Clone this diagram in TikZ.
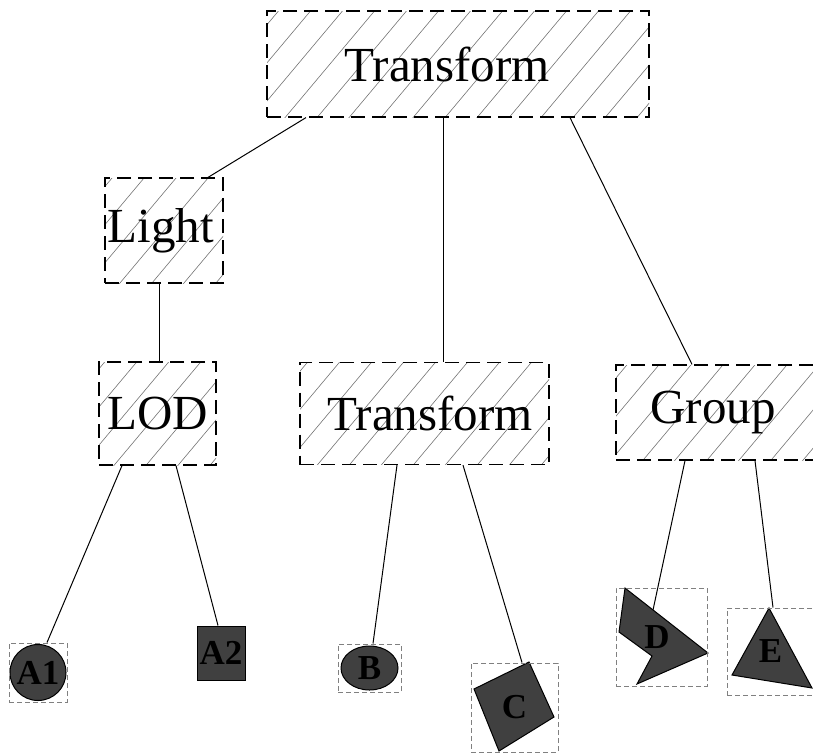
\documentclass[tikz,border=0pt]{standalone}
\usepackage{fontspec}
\setmainfont{Liberation Serif}
\tikzset{
  hatchline/.style={solid,draw=black!55,line width=0.6pt},
  hatch/.style={path picture={
    \foreach \k in {-10,...,10}{
      \draw[hatchline] ([shift={({(\k*32-130)*1pt},{-155pt})}]path picture bounding box.center) -- ++(260pt,310pt);
    }}},
  mainbox/.style={draw=black,line width=1.2pt,dash pattern=on 14pt off 7pt,hatch,
    inner sep=0pt,font=\fontsize{49}{58}\selectfont},
  leafbox/.style={draw=black!50,line width=1pt,dash pattern=on 5pt off 3pt,
    inner sep=0pt,font=\fontsize{35}{40}\selectfont\bfseries},
  leaffill/.style={fill=black!75,draw=black,line width=1pt},
  edge/.style={draw=black,line width=1pt}
}
\begin{document}
\begin{tikzpicture}[x=1pt,y=-1pt]
\useasboundingbox (0,0) rectangle (813,755);
% main nodes
\node[mainbox,minimum width=382pt,minimum height=106pt] (top) at (458,64) {\hspace*{-22pt}Transform};
\node[mainbox,minimum width=118pt,minimum height=105pt] (light) at (164,230.5) {\hspace*{-6pt}Light};
\node[mainbox,minimum width=117pt,minimum height=103pt] (lod) at (157.5,413.5) {LOD};
\node[mainbox,minimum width=249pt,minimum height=102pt] (mid) at (424.5,413.5) {\hspace*{11pt}Transform};
\node[mainbox,minimum width=198pt,minimum height=95pt] (grp) at (715,412.5) {\hspace*{-4pt}Group};
% leaf shapes
\filldraw[leaffill] (38,672.5) circle (28pt);
\filldraw[leaffill] (369.5,668) ellipse (28.5pt and 22pt);
\filldraw[leaffill] (529,662) -- (554,717) -- (499,751) -- (474,689) -- cycle;
\filldraw[leaffill] (625,588) -- (708,653) -- (637,684) -- (652,656) -- (619,632) -- cycle;
\filldraw[leaffill] (769,608) -- (812,688) -- (732,675) -- cycle;
% leaf nodes
\node[leafbox,minimum width=58pt,minimum height=59pt] (a1) at (38,672.5) {A1};
\node[leaffill,inner sep=0pt,minimum width=48pt,minimum height=54pt,
  font=\fontsize{35}{40}\selectfont\bfseries] (a2) at (221,653) {A2};
\node[leafbox,minimum width=63pt,minimum height=48pt] (b) at (369.5,668) {B};
\node[leafbox,minimum width=87pt,minimum height=89pt] (c) at (514.5,707.5) {C};
\node[leafbox,minimum width=91pt,minimum height=98pt] (d) at (661.5,637) {\hspace*{-9pt}D};
\node[leafbox,minimum width=87pt,minimum height=87pt] (e) at (770.5,651.5) {E};
% connectors
\draw[edge] ([xshift=-152pt]top.south) -- ([xshift=44pt]light.north);
\draw[edge] ([xshift=-15pt]top.south) -- ([xshift=18.5pt]mid.north);
\draw[edge] ([xshift=112pt]top.south) -- ([xshift=-23pt]grp.north);
\draw[edge] ([xshift=-5pt]light.south) -- ([xshift=1.5pt]lod.north);
\draw[edge] ([xshift=-35.5pt]lod.south) -- ([xshift=9pt]a1.north);
\draw[edge] ([xshift=18.5pt]lod.south) -- ([xshift=-3pt]a2.north);
\draw[edge] ([xshift=-27.5pt]mid.south) -- ([xshift=3.5pt]b.north);
\draw[edge] ([xshift=38.5pt]mid.south) -- ([xshift=7.5pt]c.north);
\draw[edge] ([xshift=-30pt]grp.south) -- ([shift={(-8.5,-27)}]d.center);
\draw[edge] ([xshift=40pt]grp.south) -- ([xshift=2.5pt]e.north);
\end{tikzpicture}
\end{document}
